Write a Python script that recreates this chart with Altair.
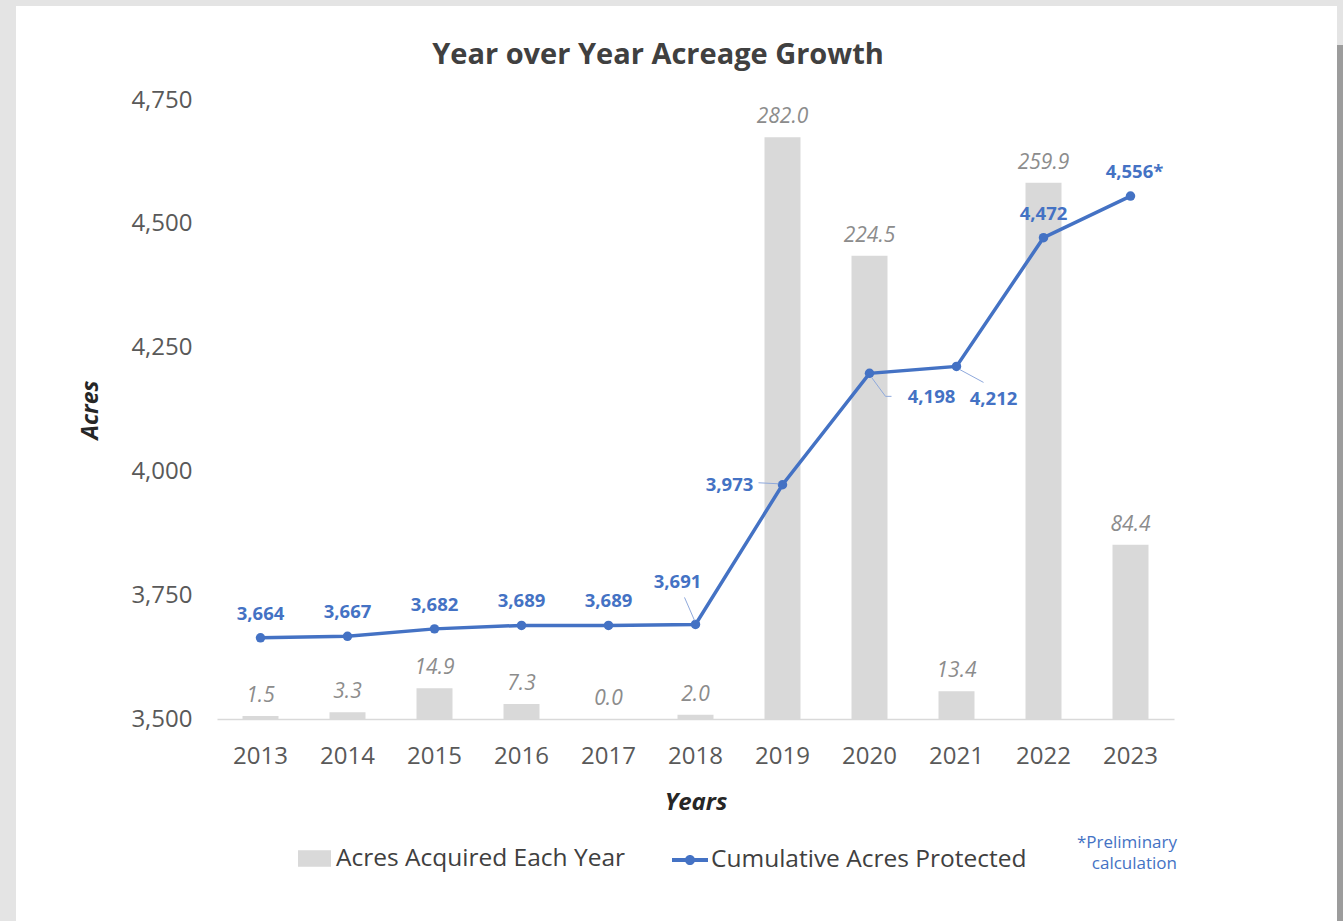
import altair as alt
import pandas as pd

years = ["2013", "2014", "2015", "2016", "2017", "2018", "2019", "2020", "2021", "2022", "2023"]
acquired = [1.5, 3.3, 14.9, 7.3, 0.0, 2.0, 282.0, 224.5, 13.4, 259.9, 84.4]
cumulative = [3664, 3667, 3682, 3689, 3689, 3691, 3973, 4198, 4212, 4472, 4556]
cum_labels = ["3,664", "3,667", "3,682", "3,689", "3,689", "3,691", "3,973", "4,198", "4,212", "4,472", "4,556*"]
y_ticks = [3500, 3750, 4000, 4250, 4500, 4750]
chart_title = "Year over Year Acreage Growth"
note_text = "*Preliminary\ncalculation"

FONT = "Open Sans"
BLUE = "#4472C4"
GRAY_BAR = "#d9d9d9"
BAR_SERIES = "Acres Acquired Each Year"
LINE_SERIES = "Cumulative Acres Protected"

df = pd.DataFrame({
    "year": years,
    "acquired": acquired,
    "cumulative": cumulative,
    "cum_label": cum_labels,
})
df["acq_label"] = [f"{v:.1f}" for v in acquired]
df["bar_series"] = BAR_SERIES
df["line_series"] = LINE_SERIES

W, H = 957, 619
PAD = {"left": 217, "top": 100, "right": 169, "bottom": 202}

base = alt.Chart(df)
x_enc = alt.X("year:N", title="Years",
              scale=alt.Scale(paddingInner=0, paddingOuter=0),
              axis=alt.Axis(labelAngle=0, labelFontSize=24, labelColor="#595959", labelFont=FONT,
                            labelPadding=25, ticks=False, domainColor=GRAY_BAR, domainWidth=1.5,
                            titleFont=FONT, titleFontSize=24, titleFontStyle="italic",
                            titleFontWeight="bold", titleColor="#262626", titlePadding=22,
                            zindex=1))

bar_y = alt.Y("acquired:Q", scale=alt.Scale(domain=[0, 300], nice=False), axis=None)
line_scale = alt.Scale(domain=[3500, 4750], nice=False, zero=False)
line_axis = alt.Axis(orient="left", values=y_ticks, labelExpr="format(datum.value, ',')",
                     labelFontSize=24, labelColor="#595959", labelFont=FONT, labelPadding=25,
                     ticks=False, domain=False, grid=False, titleFont=FONT, titleFontSize=23,
                     titleFontStyle="italic", titleFontWeight="bold", titleColor="#262626",
                     titlePadding=28, zindex=1)
line_y = alt.Y("cumulative:Q", scale=line_scale, title="Acres", axis=line_axis)

# background frame (decoration)
frame_data = alt.Data(values=[{"k": 1}])
frame = alt.Chart(frame_data).mark_rect(color="white", clip=False).encode(
    x=alt.value(16 - PAD["left"]), x2=alt.value(1337 - PAD["left"]),
    y=alt.value(6 - PAD["top"]), y2=alt.value(921 - PAD["top"]))
frame_edge = alt.Chart(frame_data).mark_rect(color="#9c9c9c", clip=False).encode(
    x=alt.value(1337 - PAD["left"]), x2=alt.value(1343 - PAD["left"]),
    y=alt.value(45 - PAD["top"]), y2=alt.value(921 - PAD["top"]))

title_mark = alt.Chart(frame_data).mark_text(font=FONT, fontSize=29, fontWeight="bold", color="#404040",
                                             align="center", baseline="middle").encode(
    x=alt.value(658 - PAD["left"]), y=alt.value(55 - PAD["top"]), text=alt.value(chart_title))

bars = base.mark_bar(width=36).encode(
    x=x_enc,
    y=bar_y,
    fill=alt.Fill("bar_series:N", scale=alt.Scale(domain=[BAR_SERIES], range=[GRAY_BAR]),
                  legend=alt.Legend(title=None, orient="none", legendX=81, legendY=742,
                                    symbolType="M-1,-0.5H1V0.5H-1Z", symbolSize=1089,
                                    symbolStrokeWidth=0, labelFont=FONT, labelFontSize=24.5,
                                    labelColor="#404040", labelOffset=5, padding=0, labelLimit=0)),
)
bar_labels = base.mark_text(font=FONT, fontSize=21, fontStyle="italic", color="#8c8c8c",
                            baseline="middle", dy=-20).encode(
    x="year:N", y=bar_y, text="acq_label:N")

line = base.mark_line(strokeWidth=3.5).encode(
    x="year:N", y=line_y,
    stroke=alt.Stroke("line_series:N", scale=alt.Scale(domain=[LINE_SERIES], range=[BLUE]),
                      legend=alt.Legend(title=None, orient="none", legendX=455, legendY=742,
                                        symbolType="M-1,-0.11H1V0.11H-1Z M-0.28,0A0.28,0.28 0 1,1 0.28,0A0.28,0.28 0 1,1 -0.28,0Z",
                                        symbolSize=1296, symbolFillColor=BLUE, symbolStrokeWidth=0,
                                        labelFont=FONT, labelFontSize=24.5, labelColor="#404040",
                                        labelOffset=3, padding=0, labelLimit=0)),
)
points = base.mark_circle(color=BLUE, size=90, opacity=1).encode(x="year:N", y=line_y)


def label_layer(sel, dx, dy):
    return base.transform_filter(alt.FieldOneOfPredicate(field="year", oneOf=sel)).mark_text(
        font=FONT, fontSize=18.5, fontWeight="bold", color=BLUE, baseline="middle", dx=dx, dy=dy
    ).encode(x="year:N", y=line_y, text="cum_label:N")


def leader(year, x0, y0, x1, y1):
    return base.transform_filter(alt.datum.year == year).mark_rule(
        color="#8fa9dc", strokeWidth=1, xOffset=x0, yOffset=y0, x2Offset=x1, y2Offset=y1
    ).encode(x=alt.X("year:N", bandPosition=0.5), x2="year", y=line_y, y2="cumulative")


labels = [
    label_layer(["2013", "2014", "2015", "2016", "2017", "2022"], 0, -24),
    label_layer(["2023"], 4, -24),
    label_layer(["2018"], -18, -42),
    label_layer(["2019"], -53, 0),
    label_layer(["2020"], 62, 24),
    label_layer(["2021"], 37, 33),
]
leaders = [
    leader("2018", -1, -4, -11, -27),
    leader("2019", -4, -1, -24, -2),
    leader("2020", 2, 4, 16, 23),
    leader("2020", 16, 23, 22, 23),
    leader("2021", 3, 3, 27, 16),
]

note = alt.Chart(frame_data).mark_text(font=FONT, fontSize=17, color=BLUE, align="right",
                                       baseline="middle", lineBreak="\n", lineHeight=21).encode(
    x=alt.value(1177 - PAD["left"]), y=alt.value(843 - PAD["top"]),
    text=alt.value(note_text))

bar_layer = alt.layer(frame, frame_edge, title_mark, bars, bar_labels)
line_layer = alt.layer(line, points, *leaders, *labels, note)

chart = alt.layer(bar_layer, line_layer).resolve_scale(
    y="independent", fill="independent", stroke="independent"
).properties(
    width=W, height=H,
    autosize=alt.AutoSizeParams(type="none"),
    padding=PAD,
    background="#e4e4e4",
).configure_view(stroke=None)

chart.save("out.html", embed_options={"renderer": "svg", "actions": False})
